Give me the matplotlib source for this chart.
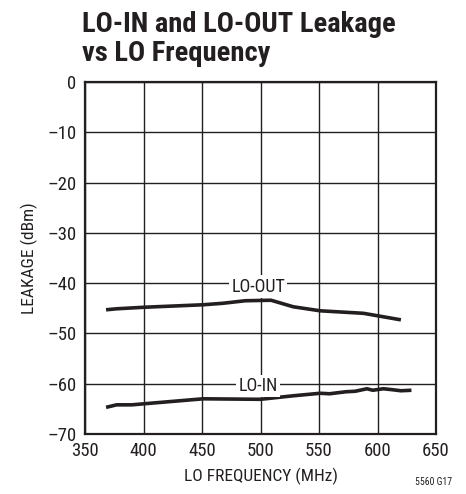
import matplotlib
matplotlib.use('Agg')
import matplotlib.pyplot as plt

# data
lo_out_freq = [368, 377, 400, 451, 468, 487, 509, 528, 551, 588, 620]
lo_out_dbm = [-45.3, -45.1, -44.8, -44.3, -44.0, -43.5, -43.4, -44.7, -45.5, -46.0, -47.3]
lo_in_freq = [368, 377, 390, 400, 451, 500, 528, 551, 559, 573, 581, 591, 596, 605, 613, 620, 629]
lo_in_dbm = [-64.7, -64.2, -64.2, -64.0, -63.0, -63.1, -62.4, -61.9, -62.0, -61.6, -61.5,
             -61.0, -61.3, -61.0, -61.2, -61.4, -61.3]
x_ticks = [350, 400, 450, 500, 550, 600, 650]
y_ticks = [0, -10, -20, -30, -40, -50, -60, -70]

plt.rcParams['font.family'] = ['Roboto Condensed', 'DejaVu Sans']

fig = plt.figure(figsize=(4.66, 4.94), dpi=100)
ax = fig.add_axes([85 / 466, 1 - 434 / 494, 351 / 466, 352 / 494])

ax.plot(lo_out_freq, lo_out_dbm, color='#231f20', lw=2.6, solid_capstyle='butt', zorder=3)
ax.plot(lo_in_freq, lo_in_dbm, color='#231f20', lw=2.6, solid_capstyle='butt', zorder=3)

ax.set_xlim(350, 650)
ax.set_ylim(-70, 0)
ax.set_xticks(x_ticks)
ax.set_yticks(y_ticks)
ax.set_yticklabels(['0' if v == 0 else '\u2013%d' % -v for v in y_ticks])
ax.tick_params(length=0, labelsize=13.5, colors='#231f20')
ax.tick_params(axis='x', pad=6)
ax.tick_params(axis='y', pad=6)
ax.grid(True, color='#231f20', lw=1.0)
for s in ax.spines.values():
    s.set_linewidth(1.6)
    s.set_color('#231f20')

bbox = dict(facecolor='white', edgecolor='none', pad=1.5)
ax.text(498, -40.7, 'LO-OUT', fontsize=13, ha='center', va='center', color='#231f20', bbox=bbox, zorder=4)
ax.text(498, -60.5, 'LO-IN', fontsize=13, ha='center', va='center', color='#231f20', bbox=bbox, zorder=4)

ax.set_xlabel('LO FREQUENCY (MHz)', fontsize=12.5, color='#231f20', labelpad=5)
ax.set_ylabel('LEAKAGE (dBm)', fontsize=12.5, color='#231f20', labelpad=7)

fig.text(82 / 466, 1 - 11 / 494, 'LO-IN and LO-OUT Leakage\nvs LO Frequency', fontsize=20.5,
         fontweight='bold', ha='left', va='top', color='#231f20', linespacing=1.08)
fig.text(452 / 466, 1 - 482 / 494, '5560 G17', fontsize=7, ha='right', va='center', color='#231f20')

fig.savefig('out.png', dpi=100)
